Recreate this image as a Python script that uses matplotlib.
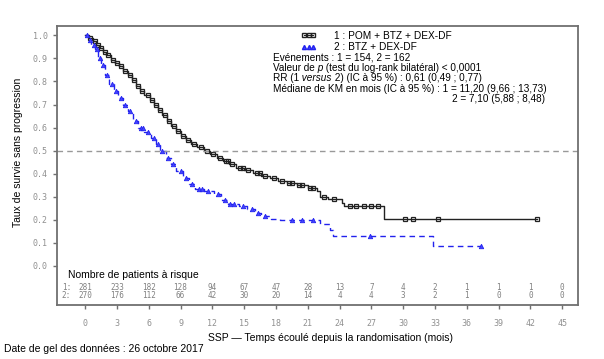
import numpy as np
import matplotlib
matplotlib.use("Agg")
import matplotlib.pyplot as plt
from matplotlib.lines import Line2D

plt.rcParams['font.family'] = ['Liberation Sans', 'DejaVu Sans']

# KM curve, arm 1 (POM + BTZ + DEX-DF), step points
t1 = [0, 0.4, 0.7, 1.0, 1.3, 1.7, 2.0, 2.4, 2.8, 3.2, 3.6, 4.0, 4.4, 4.8, 5.2, 5.6,
      6.1, 6.5, 6.9, 7.3, 7.7, 8.1, 8.6, 9.0, 9.5, 10.0, 10.6, 11.2, 11.8, 12.4, 13.0,
      13.6, 14.2, 15.0, 15.8, 16.6, 17.4, 18.2, 19.0, 20.0, 21.0, 21.9, 22.2, 22.9,
      24.2, 24.4, 28.2, 42.6]
s1 = [1.0, 0.99, 0.975, 0.96, 0.945, 0.93, 0.915, 0.895, 0.88, 0.865, 0.845, 0.83, 0.805,
      0.78, 0.76, 0.74, 0.72, 0.70, 0.675, 0.655, 0.63, 0.605, 0.585, 0.565, 0.545, 0.53,
      0.515, 0.50, 0.485, 0.47, 0.455, 0.44, 0.425, 0.415, 0.405, 0.39, 0.38, 0.37, 0.36,
      0.35, 0.34, 0.325, 0.30, 0.29, 0.275, 0.26, 0.205, 0.205]
cens1 = [0.5, 0.9, 1.2, 1.5, 1.9, 2.2, 2.6, 3.0, 3.4, 3.8, 4.2, 4.6, 5.0, 5.4, 5.9, 6.3,
         6.7, 7.1, 7.5, 7.9, 8.4, 8.8, 9.2, 9.7, 10.3, 10.9, 11.5, 12.1, 12.7, 13.3, 13.5,
         13.9, 14.6, 14.9, 15.4, 16.2, 16.5, 17.0, 17.8, 18.6, 19.2, 19.5, 20.2, 20.5,
         21.2, 21.5, 22.5, 23.5, 25.0, 25.6, 26.3, 27.0, 27.6, 30.2, 30.9, 33.3, 42.6]

# KM curve, arm 2 (BTZ + DEX-DF)
t2 = [0, 0.3, 0.6, 0.9, 1.2, 1.5, 1.9, 2.3, 2.7, 3.1, 3.6, 4.0, 4.5, 5.0, 5.6, 6.2, 6.7,
      7.1, 7.6, 8.1, 8.6, 9.2, 9.8, 10.4, 11.2, 12.2, 12.8, 13.5, 14.5, 15.3, 16.0, 16.6,
      17.5, 18.4, 22.2, 23.1, 23.4, 32.8, 37.3]
s2 = [1.0, 0.98, 0.96, 0.94, 0.90, 0.87, 0.83, 0.79, 0.76, 0.73, 0.70, 0.67, 0.63, 0.60,
      0.58, 0.555, 0.53, 0.50, 0.47, 0.44, 0.41, 0.38, 0.355, 0.335, 0.325, 0.31, 0.285,
      0.27, 0.26, 0.245, 0.23, 0.215, 0.205, 0.20, 0.18, 0.155, 0.13, 0.085, 0.085]
cens2 = [0.2, 0.5, 0.8, 1.1, 1.4, 1.7, 2.1, 2.5, 2.9, 3.4, 3.8, 4.2, 4.8, 5.3, 5.5, 5.9,
         6.5, 6.9, 7.3, 7.8, 8.3, 9.0, 9.5, 10.1, 10.7, 11.0, 11.6, 12.5, 13.2, 13.7,
         14.0, 14.9, 15.7, 16.3, 17.0, 19.5, 20.5, 21.5, 26.9, 37.3]

xticks = list(range(0, 46, 3))
risk1 = [281, 233, 182, 128, 94, 67, 47, 28, 13, 7, 4, 2, 1, 1, 1, 0]
risk2 = [270, 176, 112, 66, 42, 30, 20, 14, 4, 4, 3, 2, 1, 0, 0, 0]


def surv_at(t, ts, ss):
    i = np.searchsorted(ts, t, side='right') - 1
    return np.array(ss)[i]


fig = plt.figure(figsize=(6.04, 3.59), dpi=100)
ax = fig.add_axes([0.0944, 0.150, 0.8626, 0.7772])

ax.step(t1, s1, where='post', color='#222222', lw=1.0)
ax.plot(cens1, surv_at(cens1, t1, s1), ls='none', marker='s', ms=3.2, mfc='none',
        mec='#222222', mew=0.9)
ax.step(t2, s2, where='post', color='#2222ee', lw=1.0, ls=(0, (4, 3)))
ax.plot(cens2, surv_at(cens2, t2, s2), ls='none', marker='^', ms=3.2, mfc='#4444ff',
        mec='#2222ee', mew=0.6)

ax.axhline(0.5, color='#999999', lw=1.0, ls=(0, (4, 3)))

ax.set_xlim(-2.65, 46.5)
ax.set_ylim(-0.17, 1.04)
ax.set_yticks(np.arange(0, 1.01, 0.1))
ax.set_yticklabels(['%.1f' % v for v in np.arange(0, 1.01, 0.1)])
ax.set_xticks(xticks)
for sp in ax.spines.values():
    sp.set_color('#707070')
    sp.set_linewidth(1.3)
ax.tick_params(axis='both', colors='#707070', labelcolor='#909090', length=3,
               width=1.0, direction='out', labelsize=6)
for lab in ax.get_xticklabels() + ax.get_yticklabels():
    lab.set_family('DejaVu Sans Mono')
ax.tick_params(axis='x', pad=7)

# risk table inside the box
ax.text(-1.6, -0.04, 'Nombre de patients à risque', fontsize=7.5, va='center')
ax.text(-2.2, -0.092, '1:', fontsize=5.5, family='DejaVu Sans Mono', color='#808080',
        va='center')
ax.text(-2.2, -0.127, '2:', fontsize=5.5, family='DejaVu Sans Mono', color='#808080',
        va='center')
for x, a, b in zip(xticks, risk1, risk2):
    ax.text(x, -0.092, str(a), fontsize=5.5, family='DejaVu Sans Mono', color='#808080',
            ha='center', va='center')
    ax.text(x, -0.127, str(b), fontsize=5.5, family='DejaVu Sans Mono', color='#808080',
            ha='center', va='center')

# legend + statistics
h1 = Line2D([], [], color='#222222', lw=0.8, marker='s', ms=3, mfc='none', mec='#222222')
h2 = Line2D([], [], color='none', marker='^', ms=3, mfc='#4444ff', mec='#2222ee')
fig.legend([h1, h2], ['1 : POM + BTZ + DEX-DF', '2 : BTZ + DEX-DF'],
           loc='upper left', bbox_to_anchor=(301 / 604, 1 - 31 / 359), frameon=False,
           fontsize=7.3, numpoints=3, handlelength=1.5, handletextpad=1.8,
           labelspacing=0.12, borderpad=0, borderaxespad=0)

# each line is a list of (text, italic) pieces, chained one after the other
lines = [[('Evénements : 1 = 154, 2 = 162', False)],
         [('Valeur de', False), (' p', True), (' (test du log-rank bilatéral) < 0,0001', False)],
         [('RR (1', False), (' versus', True), (' 2) (IC à 95 %) : 0,61 (0,49 ; 0,77)', False)],
         [('Médiane de KM en mois (IC à 95 %) : 1 = 11,20 (9,66 ; 13,73)', False)]]
for i, pieces in enumerate(lines):
    prev = None
    for s, it in pieces:
        style = 'italic' if it else 'normal'
        if prev is None:
            prev = fig.text(273 / 604, 1 - (57 + 10.6 * i) / 359, s, fontsize=7.2,
                            va='center', style=style)
        else:
            prev = ax.annotate(s, xy=(1, 0), xycoords=prev, va='bottom', ha='left',
                               fontsize=7.2, style=style, annotation_clip=False)
fig.text(452 / 604, 1 - 99 / 359, '2 = 7,10 (5,88 ; 8,48)', fontsize=7.2, va='center')

fig.text(18 / 604, 1 - 152 / 359, 'Taux de survie sans progression', rotation=90,
         fontsize=7.5, ha='center', va='center')
fig.text(330 / 604, 1 - 338 / 359, 'SSP — Temps écoulé depuis la randomisation (mois)',
         fontsize=7.5, ha='center', va='center')
fig.text(4 / 604, 1 - 349 / 359, 'Date de gel des données : 26 octobre 2017',
         fontsize=7.5, ha='left', va='center')

fig.savefig('out.png', dpi=100)
